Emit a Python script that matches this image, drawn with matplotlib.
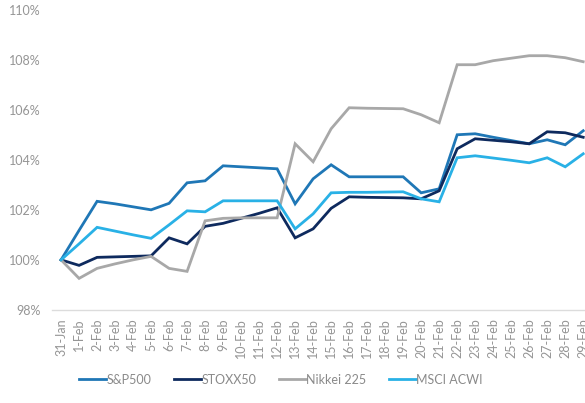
import matplotlib
matplotlib.use("Agg")
import matplotlib.pyplot as plt

plt.rcParams['font.family'] = ['Lato', 'DejaVu Sans']

dates = ["31-Jan"] + [f"{d}-Feb" for d in range(1, 30)]

sp500 = [100.0, 101.18, 102.34, 102.24, 102.12, 102.0, 102.26, 103.08, 103.16, 103.76,
         103.72, 103.68, 103.64, 102.24, 103.24, 103.8, 103.32, 103.32, 103.32, 103.32,
         102.68, 102.84, 105.0, 105.04, 104.9, 104.77, 104.64, 104.8, 104.6, 105.16]
stoxx50 = [100.0, 99.78, 100.1, 100.12, 100.14, 100.16, 100.88, 100.64, 101.34, 101.46,
           101.66, 101.86, 102.08, 100.88, 101.24, 102.06, 102.52, 102.5, 102.49, 102.48,
           102.44, 102.76, 104.44, 104.84, 104.78, 104.72, 104.64, 105.12, 105.08, 104.9]
nikkei = [100.0, 99.26, 99.66, 99.84, 100.0, 100.14, 99.66, 99.54, 101.56, 101.66,
          101.68, 101.68, 101.68, 104.64, 103.92, 105.24, 106.08, 106.06, 106.05, 106.04,
          105.8, 105.48, 107.8, 107.8, 107.96, 108.06, 108.16, 108.16, 108.08, 107.92]
msci = [100.0, 100.64, 101.3, 101.15, 101.0, 100.86, 101.4, 101.96, 101.92, 102.36,
        102.36, 102.36, 102.36, 101.24, 101.84, 102.68, 102.7, 102.7, 102.71, 102.72,
        102.44, 102.32, 104.08, 104.16, 104.07, 103.98, 103.88, 104.08, 103.72, 104.24]

series = [
    ("S&P500", sp500, "#1f77b6"),
    ("STOXX50", stoxx50, "#0e2a5e"),
    ("Nikkei 225", nikkei, "#a8a8a8"),
    ("MSCI ACWI", msci, "#29b1e6"),
]
yticks = [98, 100, 102, 104, 106, 108, 110]

fig = plt.figure(figsize=(5.85, 4.03), dpi=100)
ax = fig.add_axes([0.089, 0.231, 0.911, 0.745])

x = list(range(len(dates)))
for name, vals, col in series:
    ax.plot(x, vals, color=col, lw=2.0, label=name, solid_joinstyle='miter')

ax.set_xlim(-0.5, 29.1)
ax.set_ylim(98, 110)
ax.set_yticks(yticks)
ax.set_yticklabels([f"{v}%" for v in yticks])
ax.set_xticks(x)
ax.set_xticklabels(dates, rotation=90)
ax.tick_params(axis='both', length=0, colors="#959595", labelsize=9)
ax.tick_params(axis='y', pad=8)
ax.tick_params(axis='x', pad=6)
for s in ['top', 'right', 'left']:
    ax.spines[s].set_visible(False)
ax.spines['bottom'].set_color("#dcdcdc")
ax.spines['bottom'].set_linewidth(1.0)

leg = fig.legend(loc='center', bbox_to_anchor=(0.48, 0.058), ncol=4, frameon=False,
                 fontsize=9, handlelength=2.2, handletextpad=0.0, columnspacing=1.8)
for t in leg.get_texts():
    t.set_color("#8a8a8a")

fig.savefig("out.png", dpi=100)
